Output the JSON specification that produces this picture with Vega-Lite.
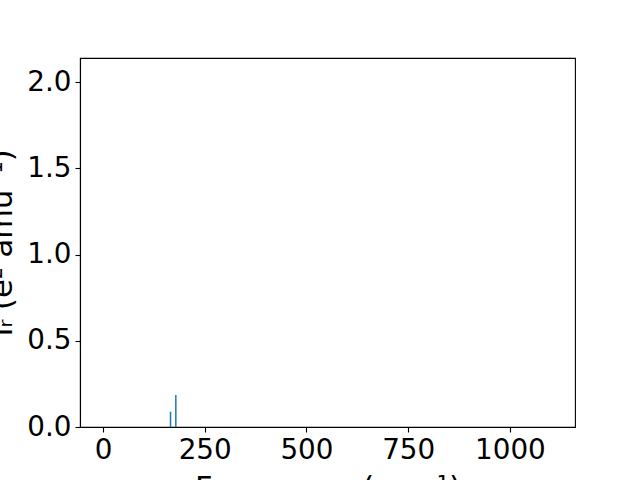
{
  "$schema": "https://vega.github.io/schema/vega-lite/v6.json",
  "width": 495,
  "height": 369,
  "autosize": {"type": "none"},
  "padding": {"left": 80, "top": 58, "right": 65, "bottom": 53},
  "background": "white",
  "config": {
    "font": "DejaVu Sans",
    "view": {"stroke": "black", "strokeWidth": 1.1},
    "axis": {
      "grid": false,
      "domainColor": "black",
      "domainWidth": 1.1,
      "tickColor": "black",
      "tickWidth": 1.1,
      "tickSize": 5,
      "labelFont": "DejaVu Sans",
      "labelFontSize": 27.8,
      "labelColor": "black",
      "labelPadding": 4,
      "titleFont": "DejaVu Sans",
      "titleFontSize": 30.5,
      "titleFontWeight": "normal",
      "titleColor": "black"
    }
  },
  "data": {
    "values": [
      {"frequency": 166, "intensity": 0.089},
      {"frequency": 179, "intensity": 0.186}
    ]
  },
  "mark": {"type": "rule", "color": "#1f77b4", "strokeWidth": 1.5},
  "encoding": {
    "x": {
      "field": "frequency",
      "type": "quantitative",
      "scale": {"domain": [-56.5, 1160], "nice": false, "zero": false},
      "axis": {"values": [0, 250, 500, 750, 1000], "format": "d", "title": "Frequency (cm⁻¹)", "titlePadding": 10, "labelFlush": false}
    },
    "y": {
      "field": "intensity",
      "type": "quantitative",
      "scale": {"domain": [0, 2.14], "nice": false},
      "axis": {"values": [0, 0.5, 1.0, 1.5, 2.0], "format": ".1f", "title": "Iᵣ (e² amu⁻¹)", "titlePadding": 9, "labelFlush": false}
    },
    "y2": {"datum": 0}
  }
}
